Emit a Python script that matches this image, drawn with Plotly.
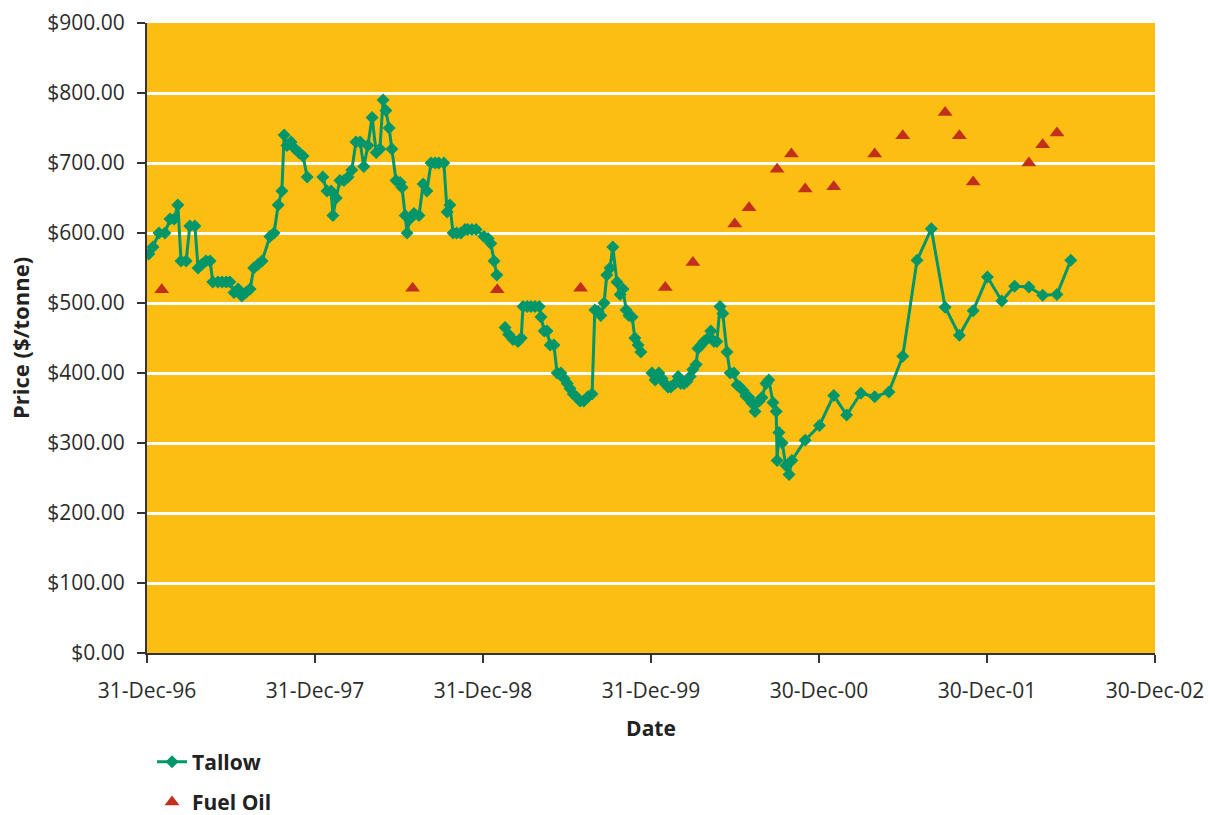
import plotly.graph_objects as go

# ---------------- data ----------------
tallow_dates = [
    "1997-01-04", "1997-01-13", "1997-01-26", "1997-02-08", "1997-02-19", "1997-02-28",
    "1997-03-08", "1997-03-15", "1997-03-26", "1997-04-03", "1997-04-14", "1997-04-21",
    "1997-04-29", "1997-05-08", "1997-05-17", "1997-05-23", "1997-06-03", "1997-06-12",
    "1997-06-21", "1997-06-29", "1997-07-08", "1997-07-17", "1997-07-25", "1997-08-03",
    "1997-08-12", "1997-08-20", "1997-08-29", "1997-09-07", "1997-09-24", "1997-10-03",
    "1997-10-12", "1997-10-20", "1997-10-25", "1997-10-31", "1997-11-09", "1997-11-18",
    "1997-11-26", "1997-12-05", "1997-12-14", "1997-12-31",
    "1998-01-17", "1998-01-26", "1998-02-04", "1998-02-08", "1998-02-15", "1998-02-23",
    "1998-03-04", "1998-03-13", "1998-03-21", "1998-03-30", "1998-04-08", "1998-04-16",
    "1998-04-25", "1998-05-04", "1998-05-13", "1998-05-21", "1998-05-28", "1998-06-03",
    "1998-06-10", "1998-06-16", "1998-06-25", "1998-07-04", "1998-07-08", "1998-07-15",
    "1998-07-19", "1998-07-25", "1998-08-03", "1998-08-14", "1998-08-23", "1998-08-31",
    "1998-09-09", "1998-09-18", "1998-09-26", "1998-10-07", "1998-10-14", "1998-10-20",
    "1998-10-27", "1998-11-04", "1998-11-13", "1998-11-22", "1998-11-28", "1998-12-07",
    "1998-12-16",
    "1999-01-02", "1999-01-11", "1999-01-17", "1999-01-24", "1999-01-30", "1999-02-08",
    "1999-02-17", "1999-02-25", "1999-03-06", "1999-03-17", "1999-03-24", "1999-03-28",
    "1999-04-06", "1999-04-14", "1999-04-23", "1999-05-02", "1999-05-06", "1999-05-13",
    "1999-05-19", "1999-05-26", "1999-06-03", "1999-06-10", "1999-06-18", "1999-06-25",
    "1999-07-02", "1999-07-08", "1999-07-15", "1999-07-23", "1999-07-30", "1999-08-07",
    "1999-08-16", "1999-08-25", "1999-08-31", "1999-09-07", "1999-09-13", "1999-09-20",
    "1999-09-26", "1999-10-03", "1999-10-09", "1999-10-18", "1999-10-25", "1999-10-31",
    "1999-11-07", "1999-11-13", "1999-11-20", "1999-11-26", "1999-12-03", "1999-12-09",
    "1999-12-20",
    "2000-01-02", "2000-01-09", "2000-01-17", "2000-01-24", "2000-01-30", "2000-02-06",
    "2000-02-12", "2000-02-21", "2000-02-28", "2000-03-05", "2000-03-12", "2000-03-18",
    "2000-03-25", "2000-03-31", "2000-04-07", "2000-04-11", "2000-04-18", "2000-04-24",
    "2000-05-03", "2000-05-09", "2000-05-16", "2000-05-22", "2000-05-29", "2000-06-04",
    "2000-06-13", "2000-06-20", "2000-06-28", "2000-07-05", "2000-07-11", "2000-07-18",
    "2000-07-24", "2000-07-31", "2000-08-06", "2000-08-13", "2000-08-22", "2000-08-28",
    "2000-09-06", "2000-09-12", "2000-09-21", "2000-09-28", "2000-09-30", "2000-10-04",
    "2000-10-11", "2000-10-19", "2000-10-26", "2000-11-01", "2000-11-30", "2000-12-31",
    "2001-01-31", "2001-02-28", "2001-03-31", "2001-04-30", "2001-05-31", "2001-06-30",
    "2001-07-31", "2001-08-31", "2001-09-30", "2001-10-31", "2001-11-30", "2001-12-31",
    "2002-01-31", "2002-02-28", "2002-03-31", "2002-04-30", "2002-05-31", "2002-06-30",
]
tallow_prices = [
    570, 580, 600, 600, 620, 620,
    640, 560, 560, 610, 610, 550,
    555, 560, 560, 530, 530, 530,
    530, 530, 515, 520, 510, 515,
    520, 550, 555, 560, 595, 600,
    640, 660, 740, 725, 730, 720,
    715, 710, 680, None,
    680, 660, 660, 625, 650, 675,
    675, 680, 690, 730, 730, 695,
    725, 765, 715, 720, 790, 775,
    750, 720, 675, 672, 665, 625,
    600, 620, 628, 625, 670, 660,
    700, 700, 700, 700, 630, 640,
    600, 600, 600, 605, 605, 605,
    605,
    595, 592, 585, 560, 540, None,
    465, 455, 448, 445, 450, 495,
    495, 495, 495, 495, 480, 460,
    460, 440, 440, 400, 400, 392,
    385, 378, 370, 365, 360, 360,
    366, 370, 490, 488, 482, 500,
    540, 550, 580, 530, 512, 520,
    490, 482, 480, 450, 440, 430,
    None,
    400, 390, 400, 392, 385, 380,
    380, 385, 395, 385, 385, 388,
    395, 405, 412, 435, 440, 445,
    450, 460, 445, 445, 495, 485,
    430, 400, 400, 383, 380, 375,
    367, 365, 357, 345, 360, 365,
    385, 390, 358, 345, 275, 315,
    300, 268, 255, 275, 304, 325,
    368, 340, 371, 366, 373, 424,
    561, 606, 494, 454, 489, 537,
    503, 524, 523, 511, 512, 561,
]

fuel_dates = [
    "1997-02-01", "1998-07-31", "1999-01-31", "1999-07-31", "2000-01-31",
    "2000-03-31", "2000-06-30", "2000-07-31", "2000-09-30", "2000-10-31",
    "2000-11-30", "2001-01-31", "2001-04-30", "2001-06-30", "2001-09-30",
    "2001-10-31", "2001-11-30", "2002-03-31", "2002-04-30", "2002-05-31",
]
fuel_prices = [
    519, 521, 519, 521, 522,
    558, 613, 636, 691, 713,
    663, 666, 713, 739, 772,
    739, 673, 700, 726, 743,
]

x_tick_dates = ["1996-12-31", "1997-12-31", "1998-12-31", "1999-12-31",
                "2000-12-30", "2001-12-30", "2002-12-30"]
x_tick_labels = ["31-Dec-96", "31-Dec-97", "31-Dec-98", "31-Dec-99",
                 "30-Dec-00", "30-Dec-01", "30-Dec-02"]

# ---------------- figure ----------------
FONT = "Open Sans, DejaVu Sans, sans-serif"
TXT = "#2b2b2b"

fig = go.Figure()
fig.add_trace(go.Scatter(
    x=tallow_dates, y=tallow_prices, name="Tallow", mode="lines+markers",
    line=dict(color="#00966A", width=3),
    marker=dict(symbol="diamond", size=10, color="#00966A"),
    connectgaps=False, legendgroup="a",
))
fig.add_trace(go.Scatter(
    x=fuel_dates, y=fuel_prices, name="Fuel Oil", mode="markers",
    marker=dict(symbol="triangle-up", size=13, color="#C1301C"),
    legendgroup="b",
))

fig.update_layout(
    width=1210, height=815,
    margin=dict(l=147, r=55, t=23, b=162, autoexpand=False),
    paper_bgcolor="white",
    plot_bgcolor="#FCBE12",
    font=dict(family=FONT, color=TXT, size=21),
    showlegend=True,
    legend=dict(
        x=0.005, xanchor="left",
        yref="container", y=0.09, yanchor="top",
        orientation="v", tracegroupgap=10,
        font=dict(family=FONT, size=21, color="#222222", weight="bold"),
        bgcolor="rgba(0,0,0,0)",
    ),
)
fig.update_xaxes(
    type="date",
    range=["1996-12-31", "2002-12-30"],
    tickvals=x_tick_dates, ticktext=x_tick_labels,
    showgrid=False, zeroline=False,
    showline=True, linecolor="#333333", linewidth=2,
    ticks="outside", ticklen=8, tickwidth=1.5, tickcolor="#333333",
    tickfont=dict(family=FONT, size=21, color=TXT),
    ticklabelstandoff=10,
    title=dict(text="<b>Date</b>", font=dict(family=FONT, size=21, color="#222222"), standoff=19),
)
fig.update_yaxes(
    range=[0, 900], dtick=100, tick0=0,
    tickformat="$,.2f",
    showgrid=True, gridcolor="white", gridwidth=3,
    zeroline=False,
    showline=True, linecolor="#333333", linewidth=2,
    ticks="outside", ticklen=8, tickwidth=1.5, tickcolor="#333333",
    tickfont=dict(family=FONT, size=21, color=TXT),
    ticklabelstandoff=8,
    title=dict(text="<b>Price ($/tonne)</b>", font=dict(family=FONT, size=22, color="#222222"), standoff=12),
)

fig.write_html("out.html")
